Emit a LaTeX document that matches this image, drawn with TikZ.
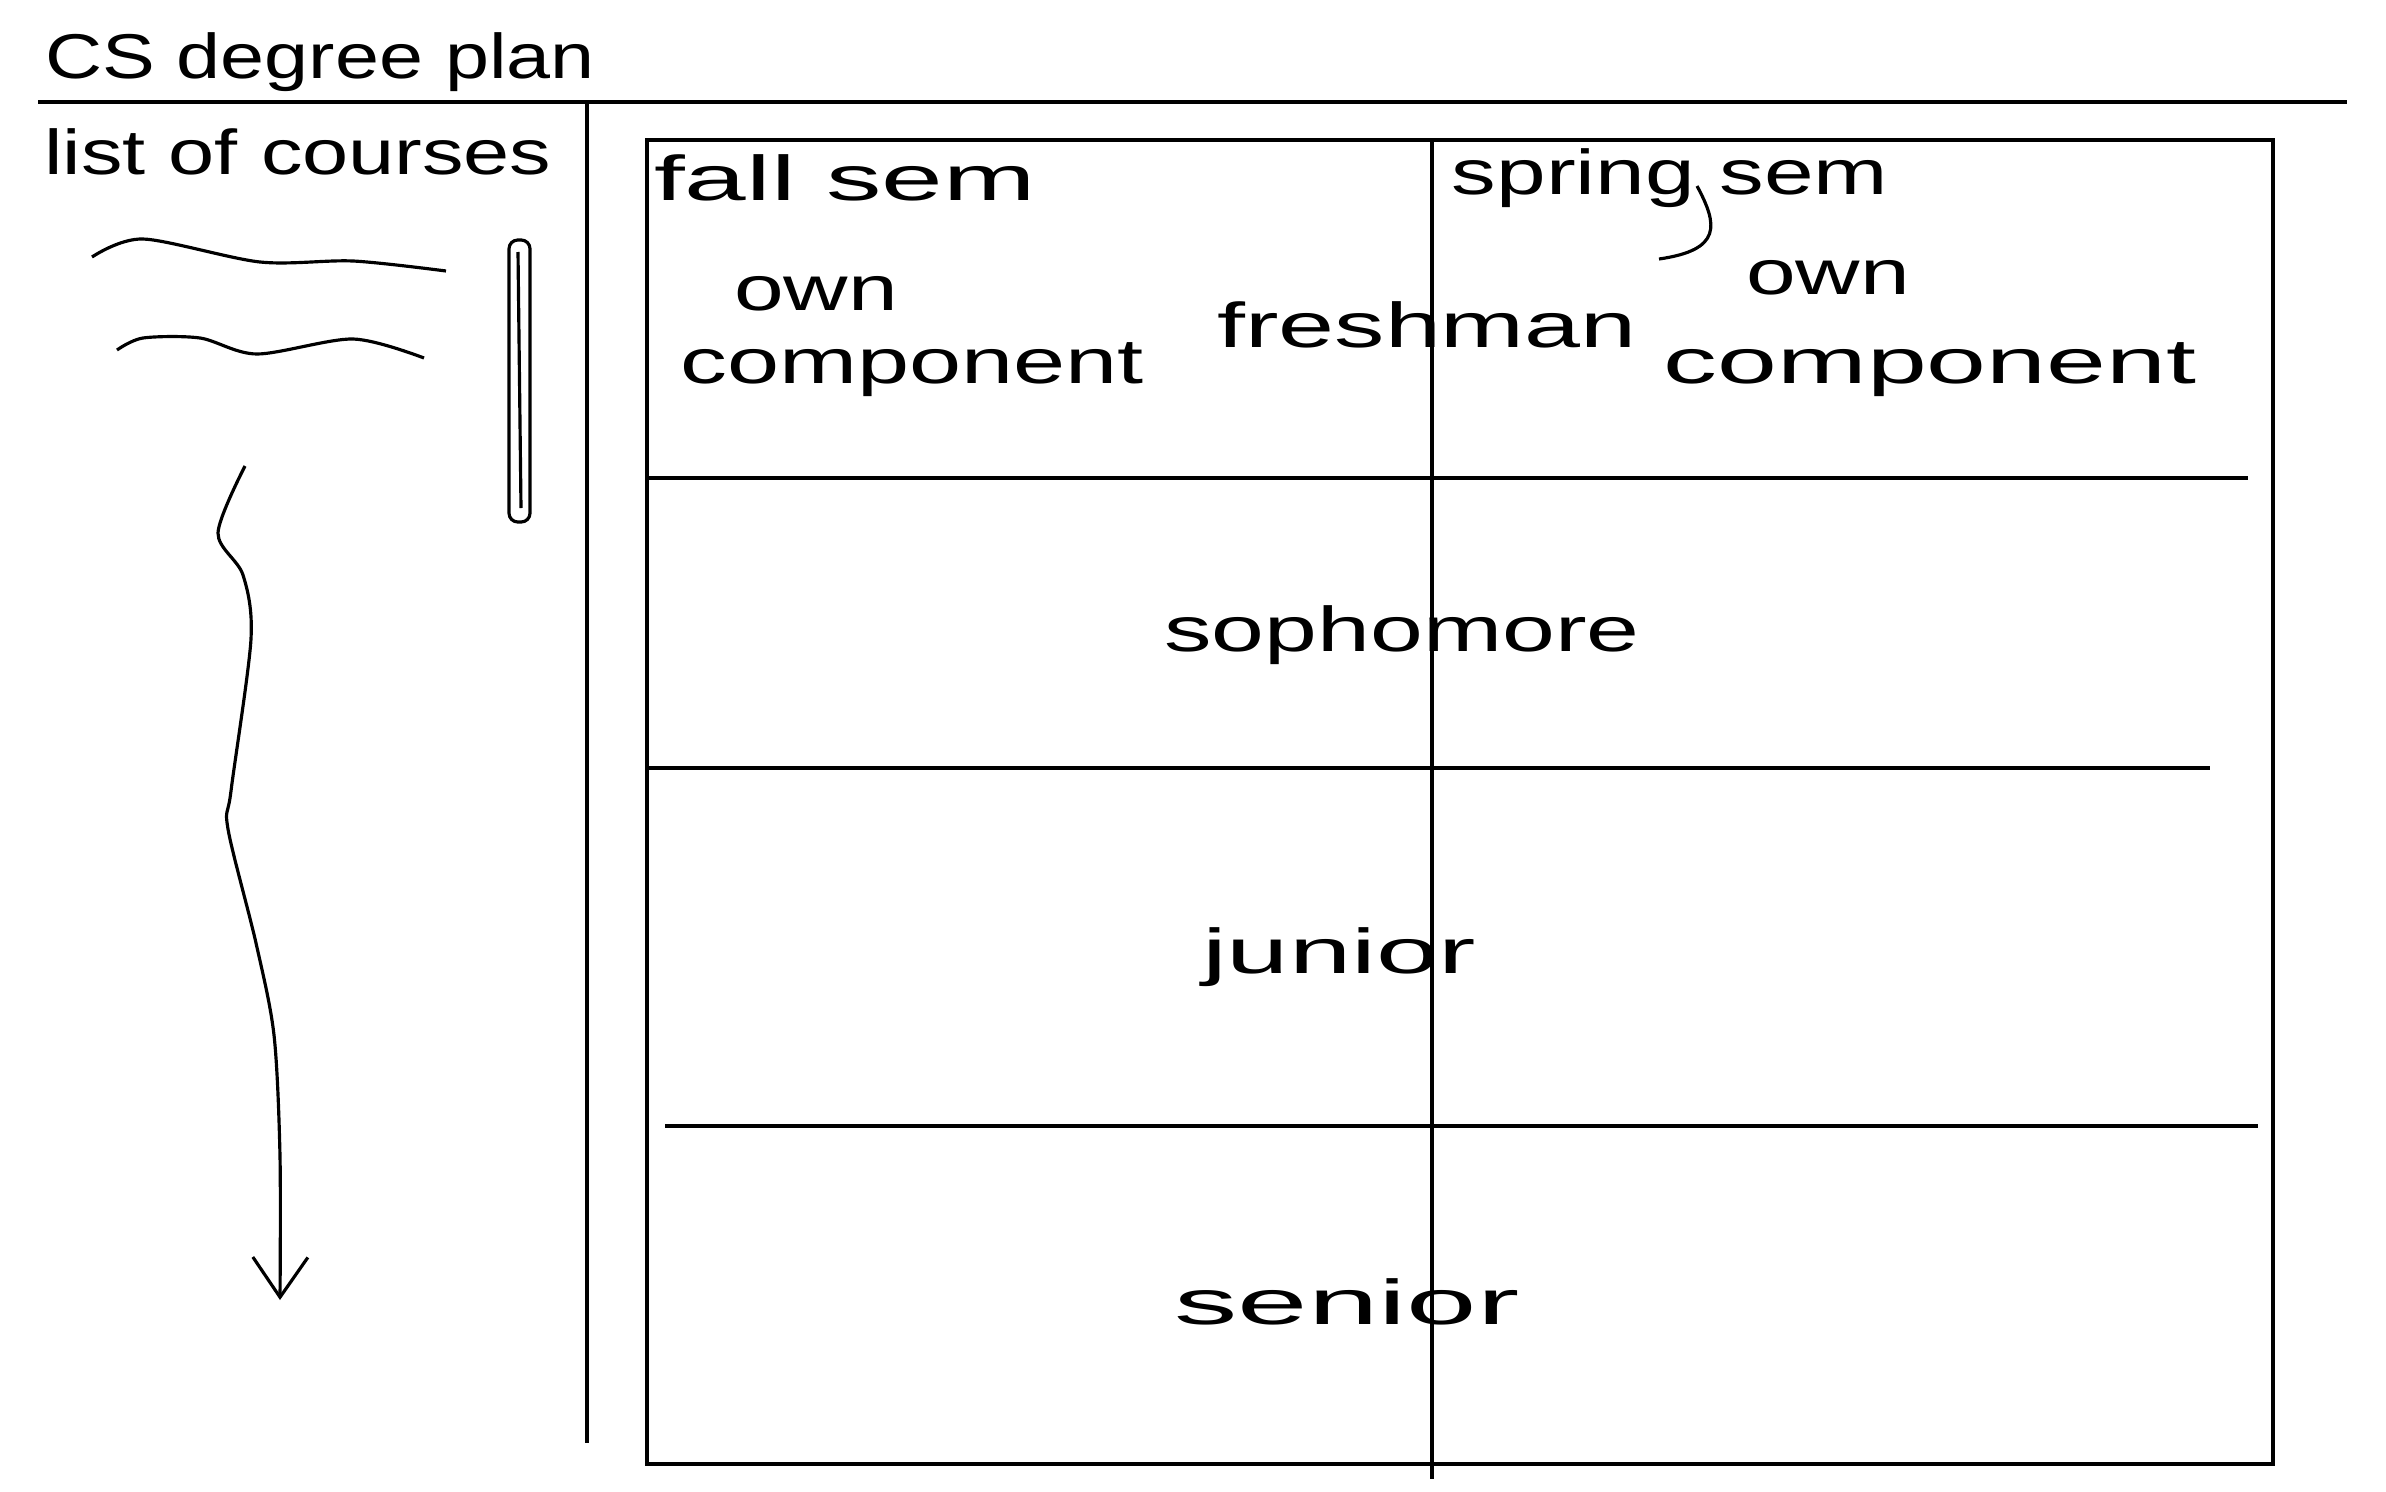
\documentclass[tikz,border=0pt]{standalone}
\usepackage{graphicx}
\usepackage{fontspec}
\setmainfont{Liberation Sans}
\usetikzlibrary{arrows.meta}

\tikzset{hand/.style={font=\fontsize{18}{22}\selectfont,inner sep=0pt}}
\newcommand{\handtext}[4][1]{\node[hand] (#3) at (#2) {\scalebox{#1}[1]{#4}}}

\begin{document}
\begin{tikzpicture}[x=0.01cm,y=-0.01cm,line width=0.9pt]
  \useasboundingbox (0,0) rectangle (2386,1491);

  \handtext[1.25]{320,62}{title}{CS degree plan};
  \draw[line width=1.2pt] (38,102) -- (2347,102);
  \draw (587,102) -- (587,1443);

  % sidebar
  \handtext[1.31]{298,152}{list}{list of courses};
  \draw plot[smooth] coordinates {(92,257) (143,239) (260,262) (353,261) (446,271)};
  \draw plot[smooth] coordinates {(117,350) (143,338) (200,338) (257,354) (353,339) (424,358)};
  \draw[rounded corners=2.5pt] (509,240) rectangle (530,522);
  \draw (518,252) -- (521,508);
  \draw[-{Straight Barb[length=4mm,width=5.5mm]}] plot[smooth] coordinates
        {(245,466) (218,533) (243,575) (251,639) (231,791) (228,829)
         (256,943) (274,1035) (280,1156) (280,1300)};

  % plan grid
  \draw (647,140) rectangle (2273,1464);
  \draw (1432,140) -- (1432,1479);
  \draw (647,478)  -- (2248,478);
  \draw (647,768)  -- (2210,768);
  \draw (665,1126) -- (2258,1126);

  \handtext[1.75]{845,178}{fall}{fall sem};
  \handtext[1.41]{1670,178}{spring}{spring sem};
  \draw (1697,186) .. controls (1718,225) and (1722,250) .. (1659,259);
  \handtext[1.41]{816,294}{ownl}{own};
  \handtext[1.48]{912,370}{compl}{component};
  \handtext[1.59]{1427,325}{fresh}{freshman};
  \handtext[1.41]{1828,278}{ownr}{own};
  \handtext[1.7]{1930,370}{compr}{component};
  \handtext[1.5]{1402,635}{soph}{sophomore};
  \handtext[1.77]{1339,957}{junior}{junior};
  \handtext[2.0]{1347,1302}{senior}{senior};
\end{tikzpicture}
\end{document}
